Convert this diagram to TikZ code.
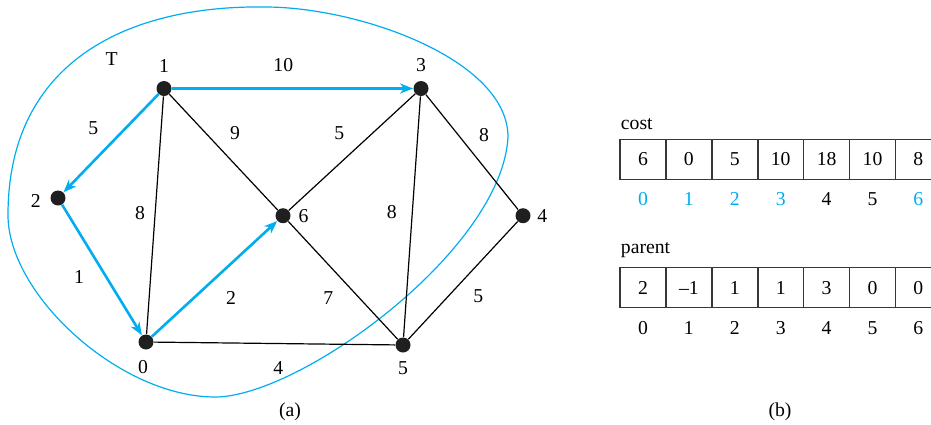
\documentclass[tikz,border=0pt]{standalone}
\usepackage{fontspec}
\setmainfont{Liberation Serif}
\usetikzlibrary{arrows.meta, positioning, calc}
\definecolor{tblue}{RGB}{0,174,239}
\definecolor{cellline}{RGB}{55,55,55}

\begin{document}
\begin{tikzpicture}[x=0.5pt, y=-0.5pt,
    vertex/.style={circle, fill=black!88, minimum size=7.5pt, inner sep=0pt},
    edge/.style={line width=0.6pt},
    tree/.style={line width=1.3pt, tblue, -{Stealth[length=6.5pt, width=5pt, inset=2pt]}},
    lbl/.style={inner sep=0pt, font=\rmfamily},
    cell/.style={draw=cellline, line width=0.75pt, minimum width=22.95pt, minimum height=20pt, inner sep=0pt, font=\rmfamily}]
    \fontsize{9.85}{12}\selectfont
    \useasboundingbox (0,0) rectangle (931,424);
    \clip (0,0) rectangle (931,424);

%% (a) graph
    \coordinate (tleft) at (8,215);
    \coordinate (tbottom) at (215,397);
    \coordinate (tright) at (508,137);
    \coordinate (ttop) at (265,7);
    \draw[tblue, line width=0.6pt] (tleft)
        .. controls (8,295) and (120,397) .. (tbottom)
        .. controls (300,397) and (502,250) .. (tright)
        .. controls (508,60) and (360,7) .. (ttop)
        .. controls (130,5) and (8,60) .. (tleft) -- cycle;
    \node[lbl] (tlabel) at (111.7,59.3) {T};

    \node[vertex] (v0) at (146,342) {};
    \node[vertex] (v1) at (164,88.5) {};
    \node[vertex] (v2) at (58,198) {};
    \node[vertex] (v3) at (421,88.5) {};
    \node[vertex] (v4) at (523,215.7) {};
    \node[vertex] (v5) at (403,345) {};
    \node[vertex] (v6) at (283,215.7) {};

    \node[lbl, below=5pt of v0, xshift=-1.5pt] (n0) {0};
    \node[lbl, above=4pt of v1] (n1) {1};
    \node[lbl, left=4.5pt of v2, yshift=-1.5pt] (n2) {2};
    \node[lbl, above=4.5pt of v3] (n3) {3};
    \node[lbl, right=3pt of v4] (n4) {4};
    \node[lbl, below=4.3pt of v5] (n5) {5};
    \node[lbl, right=3.6pt of v6] (n6) {6};

    \draw[edge] (v1) -- (v0);
    \draw[edge] (v1) -- (v6);
    \draw[edge] (v3) -- (v6);
    \draw[edge] (v3) -- (v5);
    \draw[edge] (v3) -- (v4);
    \draw[edge] (v6) -- (v5);
    \draw[edge] (v0) -- (v5);
    \draw[edge] (v4) -- (v5);

    \draw[tree] (v1) -- (v3);
    \draw[tree] (v1) -- (v2);
    \draw[tree] (v2) -- (v0);
    \draw[tree] (v0) -- (v6);

    % weights
    \node[lbl] (w13) at (283.3,65) {10};
    \node[lbl] (w12) at (93.3,128.3) {5};
    \node[lbl] (w16) at (235,133.3) {9};
    \node[lbl] (w36) at (339.3,133) {5};
    \node[lbl] (w34) at (484,135) {8};
    \node[lbl] (w10) at (140,213.3) {8};
    \node[lbl] (w35) at (391.7,211.7) {8};
    \node[lbl] (w20) at (79,277.3) {1};
    \node[lbl] (w06) at (231,298.3) {2};
    \node[lbl] (w65) at (328.3,298) {7};
    \node[lbl] (w45) at (478.3,296) {5};
    \node[lbl] (w05) at (278.3,368) {4};

    \node[lbl] (capa) at (290,411.7) {(a)};

%% (b) arrays
    \node[lbl, anchor=base west] (costlbl) at (620.5,129.5) {cost};
    \foreach \v/\c [count=\i from 0] in {6/tblue, 0/tblue, 5/tblue, 10/tblue, 18/black, 10/black, 8/tblue} {
        \node[cell] (cost\i) at (643+45.9*\i,159.3) {\v};
        \node[lbl, text=\c] (ci\i) at (643+45.9*\i,199) {\i};
    }

    \node[lbl, anchor=base west] (parlbl) at (620.5,253.5) {parent};
    \foreach \v [count=\i from 0] in {2, –1, 1, 1, 3, 0, 0} {
        \node[cell] (par\i) at (643+45.9*\i,287.7) {\v};
        \node[lbl] (pi\i) at (643+45.9*\i,328.3) {\i};
    }

    \node[lbl] (capb) at (780,411.7) {(b)};
\end{tikzpicture}
\end{document}
